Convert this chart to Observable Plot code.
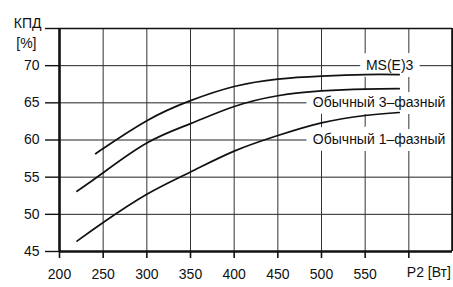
<!DOCTYPE html>
<html><head><meta charset="utf-8">
<script src="https://cdn.jsdelivr.net/npm/d3@7"></script>
<script src="https://cdn.jsdelivr.net/npm/@observablehq/plot@0.6"></script>
<style>body{margin:0;background:#fff}svg{display:block}</style>
</head><body><div id="chart"></div>
<script>
// Series values
const powerMS = [242, 250, 300, 350, 400, 450, 500, 550, 589];
const effMS   = [58.2, 58.85, 62.6, 65.3, 67.2, 68.2, 68.6, 68.8, 68.8];
const power3  = [220, 250, 300, 350, 400, 450, 500, 550, 589];
const eff3    = [53.1, 55.6, 59.6, 62.2, 64.5, 65.95, 66.6, 66.85, 66.9];
const power1  = [220, 250, 300, 350, 400, 450, 500, 550, 589];
const eff1    = [46.4, 48.9, 52.7, 55.7, 58.5, 60.6, 62.3, 63.3, 63.7];
const seriesNames = ["MS(E)3", "Обычный 3–фазный", "Обычный 1–фазный"];
const labelX = [578, 566, 566];
const labelY = [70, 65, 60];
const xTicks = [200, 250, 300, 350, 400, 450, 500, 550, 600];
const xTickLabels = ["200","250","300","350","400","450","500","550",""];
const yTicks = [45, 50, 55, 60, 65, 70, 75];
const yTickLabels = ["45","50","55","60","65","70",""];
const xUnit = "P2 [Вт]";
const yTitle = "КПД";
const yUnit = "[%]";

const rows = [];
[[powerMS, effMS], [power3, eff3], [power1, eff1]].forEach(([xs, ys], i) =>
  xs.forEach((x, j) => rows.push({series: seriesNames[i], x, y: ys[j]})));
const labels = seriesNames.map((t, i) => ({text: t, x: labelX[i], y: labelY[i]}));

const font = "'Liberation Sans', Arial, Helvetica, sans-serif";
const ink = "#111";

const chart = Plot.plot({
  width: 453, height: 287,
  marginLeft: 59, marginRight: 1, marginTop: 28, marginBottom: 36,
  x: {domain: [200, 650]},
  y: {domain: [45, 75]},
  style: {fontFamily: font, fontSize: "14px", color: ink, background: "white"},
  marks: [
    Plot.ruleY(yTicks.slice(1, -1), {stroke: "#222", strokeWidth: 1}),
    Plot.ruleX(xTicks.slice(1), {y1: 45, y2: 75, stroke: "#333", strokeWidth: 1}),
    // white knock-out behind the series labels
    Plot.text(labels, {x: "x", y: "y", text: "text", fill: "white", stroke: "white", strokeWidth: 14, fontSize: 14}),
    Plot.line(rows, {x: "x", y: "y", z: "series", curve: "natural", stroke: ink, strokeWidth: 1.7}),
    Plot.text(labels, {x: "x", y: "y", text: "text", fill: ink, fontSize: 14}),
    Plot.ruleX([200], {y1: 45, y2: 75, stroke: ink, strokeWidth: 2.6}),
    Plot.ruleX([650], {y1: 45, y2: 75, stroke: ink, strokeWidth: 2.6}),
    Plot.ruleY([45], {stroke: ink, strokeWidth: 2.6}),
    Plot.ruleY([75], {stroke: ink, strokeWidth: 1.6}),
    Plot.axisY({ticks: yTicks, tickFormat: (d, i) => yTickLabels[i], tickSize: 14, tickPadding: 6, fontSize: 14, label: null, stroke: ink, strokeWidth: 1.4}),
    Plot.axisX({ticks: xTicks, tickFormat: (d, i) => xTickLabels[i], tickSize: 7, tickPadding: 11, fontSize: 14, label: null, stroke: ink, strokeWidth: 1.6}),
    Plot.text([xUnit], {x: 600, y: 45, text: d => d, frameAnchor: "bottom", textAnchor: "start", dx: -2, dy: 25, fontSize: 14, fill: ink}),
    Plot.text([yTitle], {frameAnchor: "top-left", text: d => d, textAnchor: "end", dx: -18, dy: -10, fontSize: 14, fill: ink}),
    Plot.text([yUnit], {frameAnchor: "top-left", text: d => d, textAnchor: "end", dx: -23, dy: 10, fontSize: 14, fill: ink})
  ]
});
document.getElementById("chart").append(chart);
</script>
</body></html>
